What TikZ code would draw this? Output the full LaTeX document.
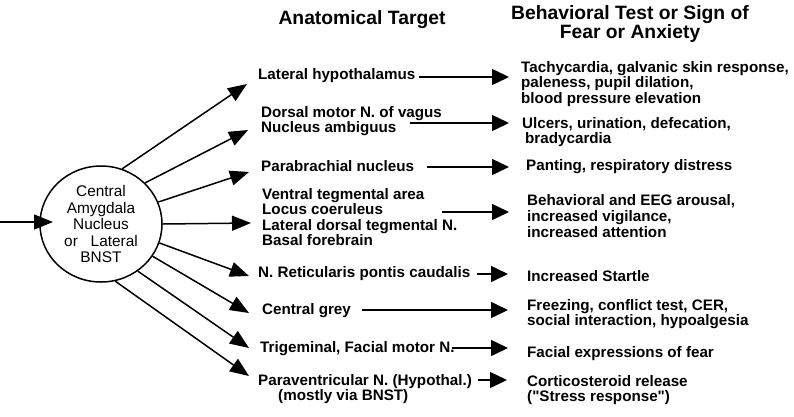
\documentclass[tikz,border=0pt]{standalone}
\usepackage{fontspec}
\setmainfont{Liberation Sans}[Ligatures=TeXOff]
\usetikzlibrary{arrows.meta,shapes.geometric}
\begin{document}
\begin{tikzpicture}[x=1pt,y=-1pt,
  lbl/.style={anchor=west,inner sep=0pt,align=left,font=\fontsize{15.2}{15.6}\selectfont\bfseries},
  hdr/.style={inner sep=0pt,align=center,font=\fontsize{19.3}{18}\selectfont\bfseries},
  arr/.style={line width=1.5pt,-{Triangle[length=17pt,width=16pt]}},
  carr/.style={line width=1.5pt,-{Triangle[length=19pt,width=15pt]}},
  nucleus/.style={ellipse,draw,line width=1.5pt,minimum width=122pt,minimum height=116pt,inner sep=0pt,align=center,font=\fontsize{15.4}{16.5}\selectfont}
]
\useasboundingbox (0,0) rectangle (794,416);

% headers
\node[hdr] (h1) at (362,20) {Anatomical Target};
\node[hdr] (h2) at (630,24) {Behavioral Test or Sign of\\Fear or Anxiety};

% central nucleus
\node[nucleus] (c) at (101,224) {Central\\Amygdala\\Nucleus\\or\ \ \ Lateral\\BNST};
\coordinate (in0) at (0,222);
\coordinate (in1) at (53,222);
\draw[carr] (in0) -- (in1);

% anatomical targets
\node[lbl] (t1) at (258,76) {Lateral hypothalamus};
\node[lbl] (t2) at (261,121) {Dorsal motor N. of vagus\\Nucleus ambiguus};
\node[lbl] (t3) at (261,166) {Parabrachial nucleus};
\node[lbl] (t4) at (262,217) {Ventral tegmental area\\Locus coeruleus\\Lateral dorsal tegmental N.\\Basal forebrain};
\node[lbl] (t5) at (258,274) {N. Reticularis pontis caudalis};
\node[lbl] (t6) at (262,311) {Central grey};
\node[lbl] (t7) at (260,349) {Trigeminal, Facial motor N.};
\node[lbl] (t8) at (258,389) {Paraventricular N. (Hypothal.)\\\hspace*{20pt}(mostly via BNST)};

% responses
\node[lbl] (r1) at (521,84) {Tachycardia, galvanic skin response,\\paleness, pupil dilation,\\blood pressure elevation};
\node[lbl] (r2) at (522,132) {Ulcers, urination, defecation,\\\hspace*{3pt}bradycardia};
\node[lbl] (r3) at (526,167) {Panting, respiratory distress};
\node[lbl] (r4) at (527,216) {Behavioral and EEG arousal,\\increased vigilance,\\increased attention};
\node[lbl] (r5) at (527,276) {Increased Startle};
\node[lbl] (r6) at (527,314) {Freezing, conflict test, CER,\\social interaction, hypoalgesia};
\node[lbl] (r7) at (527,354) {Facial expressions of fear};
\node[lbl] (r8) at (527,390) {Corticosteroid release\\("Stress response")};

% arrow tips at targets
\coordinate (p1) at (247,84);
\coordinate (p2) at (248,130);
\coordinate (p3) at (249,172);
\coordinate (p4) at (251,223);
\coordinate (p5) at (249,276);
\coordinate (p6) at (249,313);
\coordinate (p7) at (249,348);
\coordinate (p8) at (249,376);

\draw[carr] (c.69) -- (p1);
\draw[carr] (c.43) -- (p2);
\draw[carr] (c.21) -- (p3);
\draw[carr] (c.0) -- (p4);
\draw[carr] (c.-18) -- (p5);
\draw[carr] (c.-32) -- (p6);
\draw[carr] (c.-52) -- (p7);
\draw[carr] (c.-76) -- (p8);

% horizontal arrows
\coordinate (s1) at (419,77);  \coordinate (e1) at (509,77);
\coordinate (s2) at (410,123); \coordinate (e2) at (509,123);
\coordinate (s3) at (427,167); \coordinate (e3) at (509,167);
\coordinate (s4) at (442,212); \coordinate (e4) at (509,212);
\coordinate (s5) at (477,274); \coordinate (e5) at (508,274);
\coordinate (s6) at (362,310); \coordinate (e6) at (508,310);
\coordinate (s7) at (452,348); \coordinate (e7) at (508,348);
\coordinate (s8) at (478,380); \coordinate (e8) at (507,380);
\foreach \i in {1,...,8} {\draw[arr] (s\i) -- (e\i);}
\end{tikzpicture}
\end{document}
